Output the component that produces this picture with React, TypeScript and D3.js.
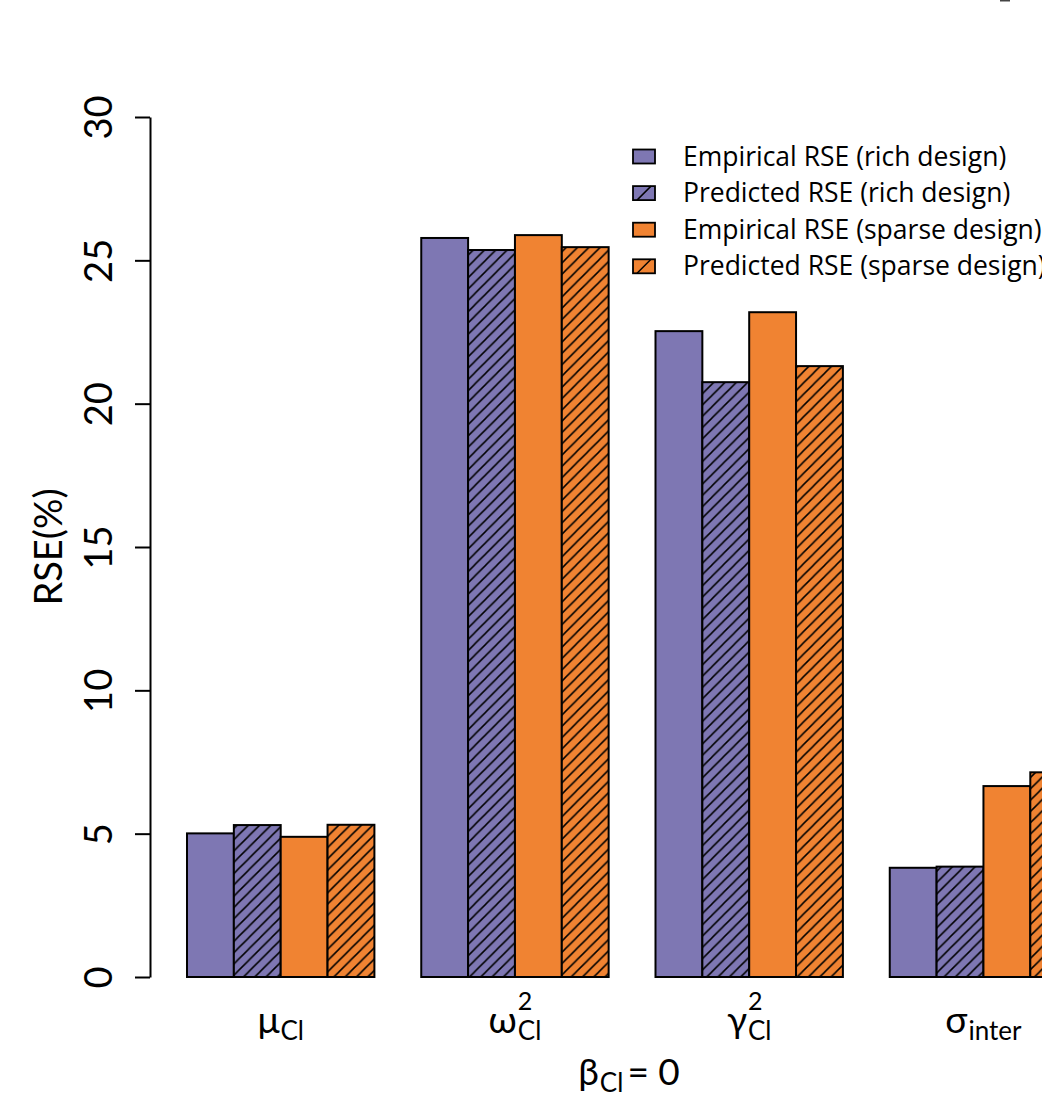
import { useEffect, useRef } from "react";
import * as d3 from "d3";

// RSE (%) per parameter
const paramGlyphs = ["μ", "ω", "γ", "σ"];
const paramSubs = ["Cl", "Cl", "Cl", "inter"];
const paramSups = ["", "2", "2", ""];
const empiricalRich = [5.01, 25.78, 22.53, 3.81];
const predictedRich = [5.3, 25.36, 20.75, 3.85];
const empiricalSparse = [4.89, 25.88, 23.19, 6.66];
const predictedSparse = [5.31, 25.46, 21.31, 7.14];
const seriesNames = [
  "Empirical RSE (rich design)",
  "Predicted RSE (rich design)",
  "Empirical RSE (sparse design)",
  "Predicted RSE (sparse design)",
];
const yTicks = [0, 5, 10, 15, 20, 25, 30];

const PURPLE = "#7e77b3";
const ORANGE = "#f08332";
const FONT = "Lato, 'Open Sans', sans-serif";
const LEGEND_FONT = "'Open Sans', Lato, sans-serif";

var width = 1042,
  height = 1097;

function App() {
  const ref = useRef<SVGSVGElement>(null);

  useEffect(() => {
    draw(ref.current!);
  }, []);

  return (
    <div>
      <style>{`body{margin:0}`}</style>
      <svg ref={ref} width={width} height={height} style={{ display: "block", background: "#fff" }}></svg>
    </div>
  );
}

function draw(el: SVGSVGElement) {
  const svg = d3.select(el);
  svg.selectAll("*").remove();

  const series = [empiricalRich, predictedRich, empiricalSparse, predictedSparse];
  const fills = [PURPLE, PURPLE, ORANGE, ORANGE];
  const hatched = [false, true, false, true];

  // bar units: each group = 1 space + 4 bars
  const x = d3.scaleLinear().domain([0, 20]).range([140.15, 140.15 + 20 * 46.85]);
  const y = d3.scaleLinear().domain([0, 30]).range([977, 117]);
  const barW = x(1) - x(0);

  // hatch pattern
  const defs = svg.append("defs");
  const h = 11.3;
  defs.append("pattern")
    .attr("id", "hatch")
    .attr("patternUnits", "userSpaceOnUse")
    .attr("width", h)
    .attr("height", h)
    .append("path")
    .attr("d", `M0,${h} L${h},0 M${-h / 4},${h / 4} L${h / 4},${-h / 4} M${h * 0.75},${h * 1.25} L${h * 1.25},${h * 0.75}`)
    .attr("stroke", "#000")
    .attr("stroke-width", 1.5);

  // bars
  series.forEach((vals, j) => {
    const g = svg.append("g");
    vals.forEach((v, i) => {
      const left = x(i * 5 + 1 + j);
      g.append("rect")
        .attr("x", left)
        .attr("y", y(v))
        .attr("width", barW)
        .attr("height", y(0) - y(v))
        .attr("fill", fills[j])
        .attr("stroke", "none");
      if (hatched[j]) {
        g.append("rect")
          .attr("x", left)
          .attr("y", y(v))
          .attr("width", barW)
          .attr("height", y(0) - y(v))
          .attr("fill", "url(#hatch)");
      }
      g.append("rect")
        .attr("x", left)
        .attr("y", y(v))
        .attr("width", barW)
        .attr("height", y(0) - y(v))
        .attr("fill", "none")
        .attr("stroke", "#000")
        .attr("stroke-width", 2);
    });
  });

  // Y axis
  const yAxis = svg.append("g")
    .attr("transform", "translate(150,0)")
    .call(d3.axisLeft(y).tickValues(yTicks).tickSize(15).tickSizeOuter(0));
  yAxis.select(".domain").attr("stroke-width", 2);
  yAxis.selectAll(".tick line").attr("stroke-width", 2);
  yAxis.selectAll(".tick text")
    .attr("transform", "rotate(-90)")
    .attr("x", 0)
    .attr("y", -38)
    .attr("dy", "0")
    .attr("fill", "#000")
    .style("text-anchor", "middle")
    .style("font-family", FONT)
    .style("font-size", "38px");

  svg.append("text")
    .attr("transform", "translate(62,547) rotate(-90)")
    .style("text-anchor", "middle")
    .style("font-family", FONT)
    .style("font-size", "38px")
    .text("RSE(%)");

  // X labels with sub/superscripts
  function mathLabel(cx: number, base: number, glyph: string, sub: string, sup: string, main: number, small: number, tail?: string) {
    const g = svg.append("g").style("font-family", FONT);
    const t = g.append("text").attr("x", 0).attr("y", base).style("font-size", main + "px").text(glyph);
    const w = (t.node() as SVGTextElement).getComputedTextLength();
    let subW = 0, supW = 0;
    if (sub) {
      const s = g.append("text").attr("x", w + 1).attr("y", base + 7).style("font-size", small + "px").text(sub);
      subW = (s.node() as SVGTextElement).getComputedTextLength();
    }
    if (sup) {
      const s = g.append("text").attr("x", w + 1).attr("y", base - 23).style("font-size", (small - 1) + "px").text(sup);
      supW = (s.node() as SVGTextElement).getComputedTextLength();
    }
    let total = w + 1 + Math.max(subW, supW);
    if (tail) {
      const s = g.append("text").attr("x", total + 4).attr("y", base).style("font-size", main + "px").text(tail);
      total += 4 + (s.node() as SVGTextElement).getComputedTextLength();
    }
    g.attr("transform", `translate(${cx - total / 2},0)`);
  }

  paramGlyphs.forEach((glyph, i) => {
    mathLabel(x(i * 5 + 3), 1033, glyph, paramSubs[i], paramSups[i], 37, 26);
  });
  mathLabel(629, 1085, "β", "Cl", "", 37, 26, "= 0");

  // legend
  const legend = svg.append("g").attr("transform", "translate(633,0)");
  seriesNames.forEach((name, i) => {
    const cy = 156.5 + i * 36.6;
    legend.append("rect")
      .attr("x", 0).attr("y", cy - 7)
      .attr("width", 22).attr("height", 14)
      .attr("fill", fills[i])
      .attr("stroke", "#000")
      .attr("stroke-width", 1.8);
    if (hatched[i]) {
      legend.append("line")
        .attr("x1", 4).attr("y1", cy + 7)
        .attr("x2", 18).attr("y2", cy - 7)
        .attr("stroke", "#000")
        .attr("stroke-width", 1.5);
    }
    legend.append("text")
      .attr("x", 50)
      .attr("y", cy + 9)
      .style("font-family", LEGEND_FONT)
      .style("font-size", "26.5px")
      .text(name);
  });

  // stray mark at the top right edge of the original
  svg.append("line")
    .attr("x1", 1000).attr("y1", 0.5)
    .attr("x2", 1010).attr("y2", 0.5)
    .attr("stroke", "#444")
    .attr("stroke-width", 2);
}

export default App;
